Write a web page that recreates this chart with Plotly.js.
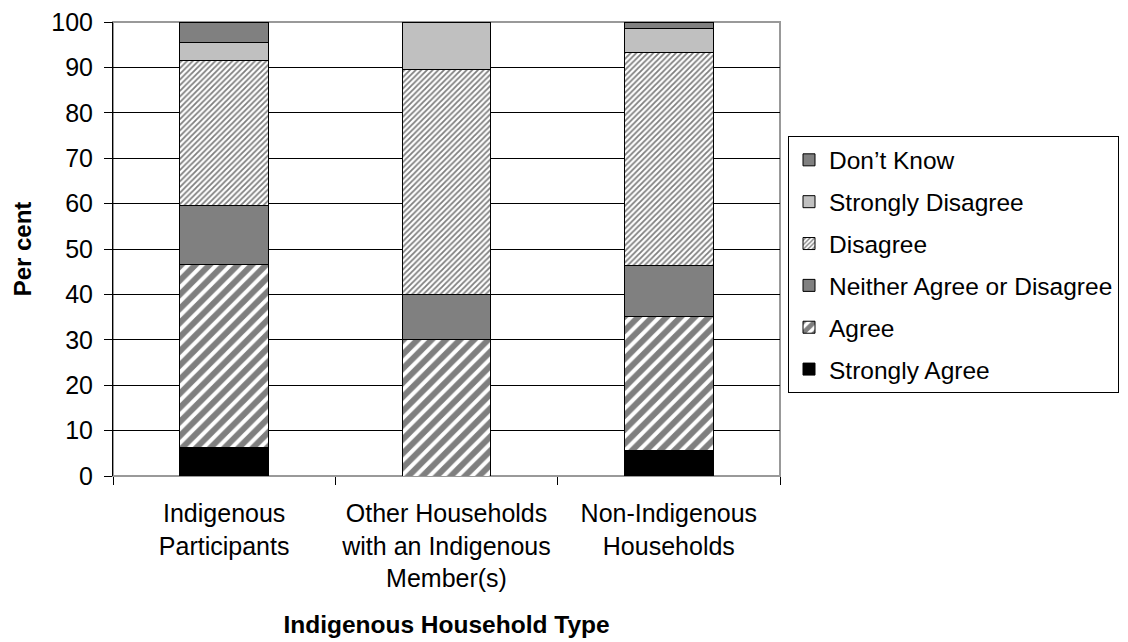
<!DOCTYPE html>
<html>
<head>
<meta charset="utf-8">
<script src="https://cdn.plot.ly/plotly-3.0.1.min.js"></script>
<style>html,body{margin:0;padding:0;background:#fff;}#chart{width:1128px;height:642px;}</style>
</head>
<body>
<div id="chart"></div>
<script>
const categories = ["Indigenous<br>Participants", "Other Households<br>with an Indigenous<br>Member(s)", "Non-Indigenous<br>Households"];
const seriesNames = ["Strongly Agree", "Agree", "Neither Agree or Disagree", "Disagree", "Strongly Disagree", "Don\u2019t Know"];
const stronglyAgree = [6.3, 0, 5.7];
const agree = [40.3, 30.0, 29.5];
const neither = [12.9, 10.0, 11.1];
const disagree = [32.0, 49.6, 46.9];
const stronglyDisagree = [3.9, 10.4, 5.3];
const dontKnow = [4.6, 0, 1.5];
const yTicks = [0, 10, 20, 30, 40, 50, 60, 70, 80, 90, 100];

const FONT = "Liberation Sans, Arial, sans-serif";
const line = {color: "#000", width: 1};

function bar(idx, y, marker) {
  const name = seriesNames[idx];
  return {type: "bar", name: name, x: categories, y: y, legendgroup: name,
          legendrank: 100 - idx,
          marker: Object.assign({line: line}, marker), width: 0.4, hoverinfo: "skip"};
}

const traces = [
  bar(0, stronglyAgree, {color: "#000000"}),
  bar(1, agree, {color: "#ffffff", pattern: {shape: "/", size: 10, solidity: 0.6, fgcolor: "#000000", bgcolor: "#ffffff", fillmode: "overlay"}}),
  bar(2, neither, {color: "#808080"}),
  bar(3, disagree, {color: "#ffffff", pattern: {shape: "/", size: 4, solidity: 0.45, fgcolor: "#000000", bgcolor: "#ffffff", fillmode: "overlay"}}),
  bar(4, stronglyDisagree, {color: "#c0c0c0"}),
  bar(5, dontKnow, {color: "#808080"})
];

const layout = {
  width: 1128, height: 642,
  margin: {l: 113, r: 348, t: 22, b: 166, pad: 0, autoexpand: false},
  paper_bgcolor: "#fff", plot_bgcolor: "#fff",
  barmode: "stack",
  font: {family: FONT, size: 25, color: "#000"},
  showlegend: true,
  legend: {x: 1.012, xanchor: "left", y: 0.748, yanchor: "top",
           traceorder: "grouped", tracegroupgap: 7,
           bordercolor: "#000", borderwidth: 1, bgcolor: "#fff",
           font: {family: FONT, size: 24.5, color: "#000"}},
  xaxis: {type: "category", showgrid: false, showline: false, zeroline: false,
          automargin: false, tickangle: 0,
          ticks: "outside", tickson: "boundaries", ticklen: 8, tickcolor: "#000",
          tickfont: {family: FONT, size: 25}, ticklabelstandoff: 20,
          title: {text: "<b>Indigenous Household Type</b>", font: {family: FONT, size: 24.5}, standoff: 24}},
  yaxis: {range: [0, 100], tickvals: yTicks, ticktext: yTicks.map(String),
          automargin: false,
          showgrid: true, gridcolor: "#000", gridwidth: 1, zeroline: false,
          showline: true, linecolor: "#000", linewidth: 1,
          ticks: "outside", ticklen: 8, tickcolor: "#000", ticklabelstandoff: 6,
          tickfont: {family: FONT, size: 25},
          title: {text: "<b>Per cent</b>", font: {family: FONT, size: 24}, standoff: 12}},
  shapes: [{type: "rect", xref: "paper", yref: "paper", x0: 0, x1: 1, y0: 0, y1: 1,
            line: {color: "#999", width: 2}, fillcolor: "rgba(0,0,0,0)", layer: "between"}]
};

Plotly.newPlot("chart", traces, layout, {displayModeBar: false, staticPlot: true});
</script>
</body>
</html>
